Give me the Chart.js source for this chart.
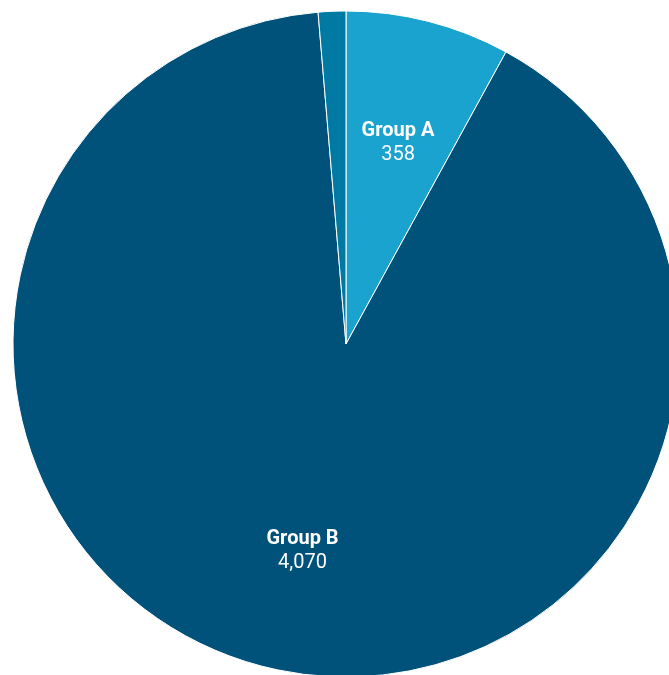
<!DOCTYPE html>
<html>
<head>
<meta charset="utf-8">
<script src="https://cdn.jsdelivr.net/npm/chart.js@4"></script>
<style>
  html, body { margin: 0; padding: 0; background: #ffffff; overflow: hidden; width: 669px; height: 675px; }
  #wrap { position: absolute; left: 0; top: 0; width: 692px; height: 688px; }
</style>
</head>
<body>
<div id="wrap"><canvas id="pie" width="692" height="688"></canvas></div>
<script>
// Slice names, values and fills
const categories = ['Group A', 'Group B', 'Group C'];
const values = [358, 4070, 60];
const colors = ['#1ba3cf', '#00527a', '#0079a3'];
// Slices that carry a name/value label
const labelled = [true, true, false];

const sliceLabels = {
  id: 'sliceLabels',
  afterDatasetsDraw(chart) {
    const ctx = chart.ctx;
    const meta = chart.getDatasetMeta(0);
    meta.data.forEach((arc, i) => {
      if (!labelled[i]) return;
      const p = arc.getProps(['x', 'y', 'startAngle', 'endAngle', 'outerRadius'], true);
      const mid = (p.startAngle + p.endAngle) / 2;
      const r = p.outerRadius * 0.63;
      const cx = p.x + Math.cos(mid) * r;
      const cy = p.y + Math.sin(mid) * r;
      ctx.save();
      ctx.fillStyle = '#ffffff';
      ctx.textAlign = 'center';
      ctx.textBaseline = 'middle';
      ctx.font = 'bold 20px Roboto';
      ctx.fillText(categories[i], cx, cy - 10);
      ctx.font = '20px Roboto';
      ctx.fillText(values[i].toLocaleString('en-US'), cx, cy + 14);
      ctx.restore();
    });
  }
};

new Chart(document.getElementById('pie'), {
  type: 'pie',
  data: {
    labels: categories,
    datasets: [{
      data: values,
      backgroundColor: colors,
      borderColor: '#ffffff',
      borderWidth: 1,
      clip: false
    }]
  },
  options: {
    responsive: false,
    animation: false,
    radius: 333,
    layout: { padding: 0 },
    plugins: {
      legend: { display: false },
      tooltip: { enabled: false }
    }
  },
  plugins: [sliceLabels]
});
</script>
</body>
</html>
